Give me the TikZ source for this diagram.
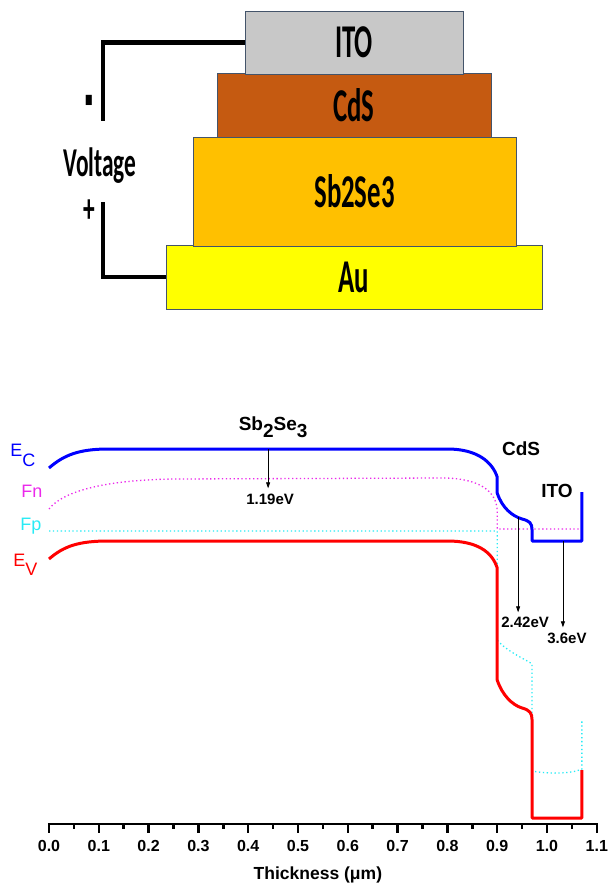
\documentclass[tikz,border=0pt]{standalone}
\usepackage{fontspec}
\setmainfont{Liberation Sans}
\newfontfamily\calfont{Carlito}
\usetikzlibrary{arrows.meta, positioning, calc}

\definecolor{itogray}{RGB}{200,200,200}
\definecolor{cdsbrown}{RGB}{197,90,17}
\definecolor{sbgold}{RGB}{255,192,0}
\definecolor{auyellow}{RGB}{255,255,0}
\definecolor{edge}{RGB}{68,84,106}
\definecolor{fncol}{RGB}{235,40,235}
\definecolor{fpcol}{RGB}{40,235,245}

\newcommand{\narrow}[1]{\scalebox{0.57}[1]{#1}}

\begin{document}
\begin{tikzpicture}[x=1pt, y=-1pt,
    layer/.style={draw=edge, line width=0.9pt, inner sep=0pt,
                  font=\calfont\bfseries\fontsize{47}{47}\selectfont},
    volt/.style={inner sep=0pt, font=\calfont\bfseries\fontsize{41}{41}\selectfont},
    wire/.style={line width=4.5pt},
    band/.style={line width=3pt, line join=round},
    qf/.style={line width=1.3pt, dash pattern=on 1.3pt off 2.6pt},
    gap/.style={-{Triangle[length=6pt, width=4pt]}, line width=0.8pt},
    lbl/.style={inner sep=0pt, anchor=base, font=\bfseries\fontsize{19}{19}\selectfont},
    ev/.style={inner sep=0pt, anchor=base, font=\bfseries\fontsize{15}{15}\selectfont},
    ticklab/.style={inner sep=0pt, anchor=base, font=\bfseries\fontsize{16}{16}\selectfont},
    side/.style={inner sep=0pt, anchor=base west, font=\fontsize{18}{18}\selectfont},
    axisline/.style={line width=2.5pt}
  ]
  \useasboundingbox (0,0) rectangle (611,888);

  % device stack
  \node[layer, fill=auyellow, minimum width=376pt, minimum height=64pt] (au) at (354,277) {\narrow{Au}};
  \node[layer, fill=sbgold, minimum width=323pt, minimum height=109pt] (sb) at (354.5,191.5) {\narrow{Sb2Se3}};
  \node[layer, fill=cdsbrown, minimum width=274pt, minimum height=64pt] (cds) at (354,105) {\narrow{CdS}};
  \node[layer, fill=itogray, minimum width=218pt, minimum height=63pt] (ito) at (354,42.5) {\narrow{ITO}};

  \coordinate (minus) at (103,121);
  \coordinate (plus) at (103,202);
  \draw[wire] (ito.west) -| (minus);
  \draw[wire] (au.west) -| (plus);
  \node[volt] (neg) at (89,112) {\scalebox{0.6}[2.4]{-}};
  \node[volt] (pos) at (89,211) {\narrow{+}};
  \node[volt, anchor=base] (vlt) at (100,176) {\narrow{Voltage}};

  % band diagram
  \begin{scope}[xshift=49pt, x=498pt]
    \draw[qf, fpcol] (0,531) -- (0.90,531) -- (0.90,640)
      .. controls (0.92,652) and (0.96,660) .. (0.97,664) -- (0.97,771)
      .. controls (1.00,774) and (1.05,774) .. (1.07,769) -- (1.07,719);
    \draw[qf, fncol] (0,509) .. controls (0.03,490) and (0.12,480) .. (0.25,479)
      -- (0.79,478) .. controls (0.86,478) and (0.90,490) .. (0.90,512)
      -- (0.90,529) -- (1.07,529);
    \draw[band, red] (0,559) .. controls (0.03,546) and (0.06,541) .. (0.12,541)
      -- (0.80,541) .. controls (0.86,541) and (0.89,552) .. (0.90,568)
      -- (0.90,680) .. controls (0.91,695) and (0.93,705) .. (0.95,708)
      .. controls (0.965,710) and (0.97,713) .. (0.97,720)
      -- (0.97,818) -- (1.07,818) -- (1.07,770);
    \draw[band, blue] (0,468) .. controls (0.03,455) and (0.06,449) .. (0.12,449)
      -- (0.80,449) .. controls (0.86,449) and (0.89,462) .. (0.90,477)
      -- (0.90,493) .. controls (0.91,508) and (0.93,516) .. (0.95,519)
      .. controls (0.965,521) and (0.97,523) .. (0.97,530)
      -- (0.97,541) -- (1.07,541) -- (1.07,492);

    \node[side, blue] (ec) at (-0.078,456) {E\raisebox{-10pt}{C}};
    \node[side, fncol] (fn) at (-0.056,497) {Fn};
    \node[side, fpcol] (fp) at (-0.058,530) {Fp};
    \node[side, red] (evl) at (-0.072,566) {E\raisebox{-9pt}{V}};

    \node[lbl] (sbl) at (0.450,430) {Sb\raisebox{-7pt}{2}Se\raisebox{-7pt}{3}};
    \node[lbl] (cdsl) at (0.948,455) {CdS};
    \node[lbl] (itol) at (1.020,497) {ITO};

    \node[ev] (g1) at (0.444,504) {1.19eV};
    \node[ev] (g2) at (0.956,627) {2.42eV};
    \node[ev] (g3) at (1.040,643) {3.6eV};
    \coordinate (a1) at (0.440,449);
    \coordinate (a2) at (0.942,517);
    \coordinate (a3) at (1.032,541);
    \draw[gap] (a1) -- ([yshift=5pt]a1 |- g1.north);
    \draw[gap] (a2) -- ([yshift=4pt]a2 |- g2.north);
    \draw[gap] (a3) -- ([yshift=5pt]a3 |- g3.north);

    % thickness axis
    \draw[axisline] (-0.0025,824) -- (1.1025,824);
    \foreach \lab [count=\i from 0] in {0.0,0.1,0.2,0.3,0.4,0.5,0.6,0.7,0.8,0.9,1.0,1.1} {
      \draw[axisline] (\i/10,824) -- (\i/10,833);
      \node[ticklab] (tk\i) at (\i/10,851) {\lab};
    }
    \foreach \i in {0,...,10}
      \draw[axisline] (\i/10+0.05,824) -- (\i/10+0.05,829);
    \node[ev, font=\bfseries\fontsize{17.5}{17.5}\selectfont] (xt) at (0.540,879) {Thickness (μm)};
  \end{scope}
\end{tikzpicture}
\end{document}
